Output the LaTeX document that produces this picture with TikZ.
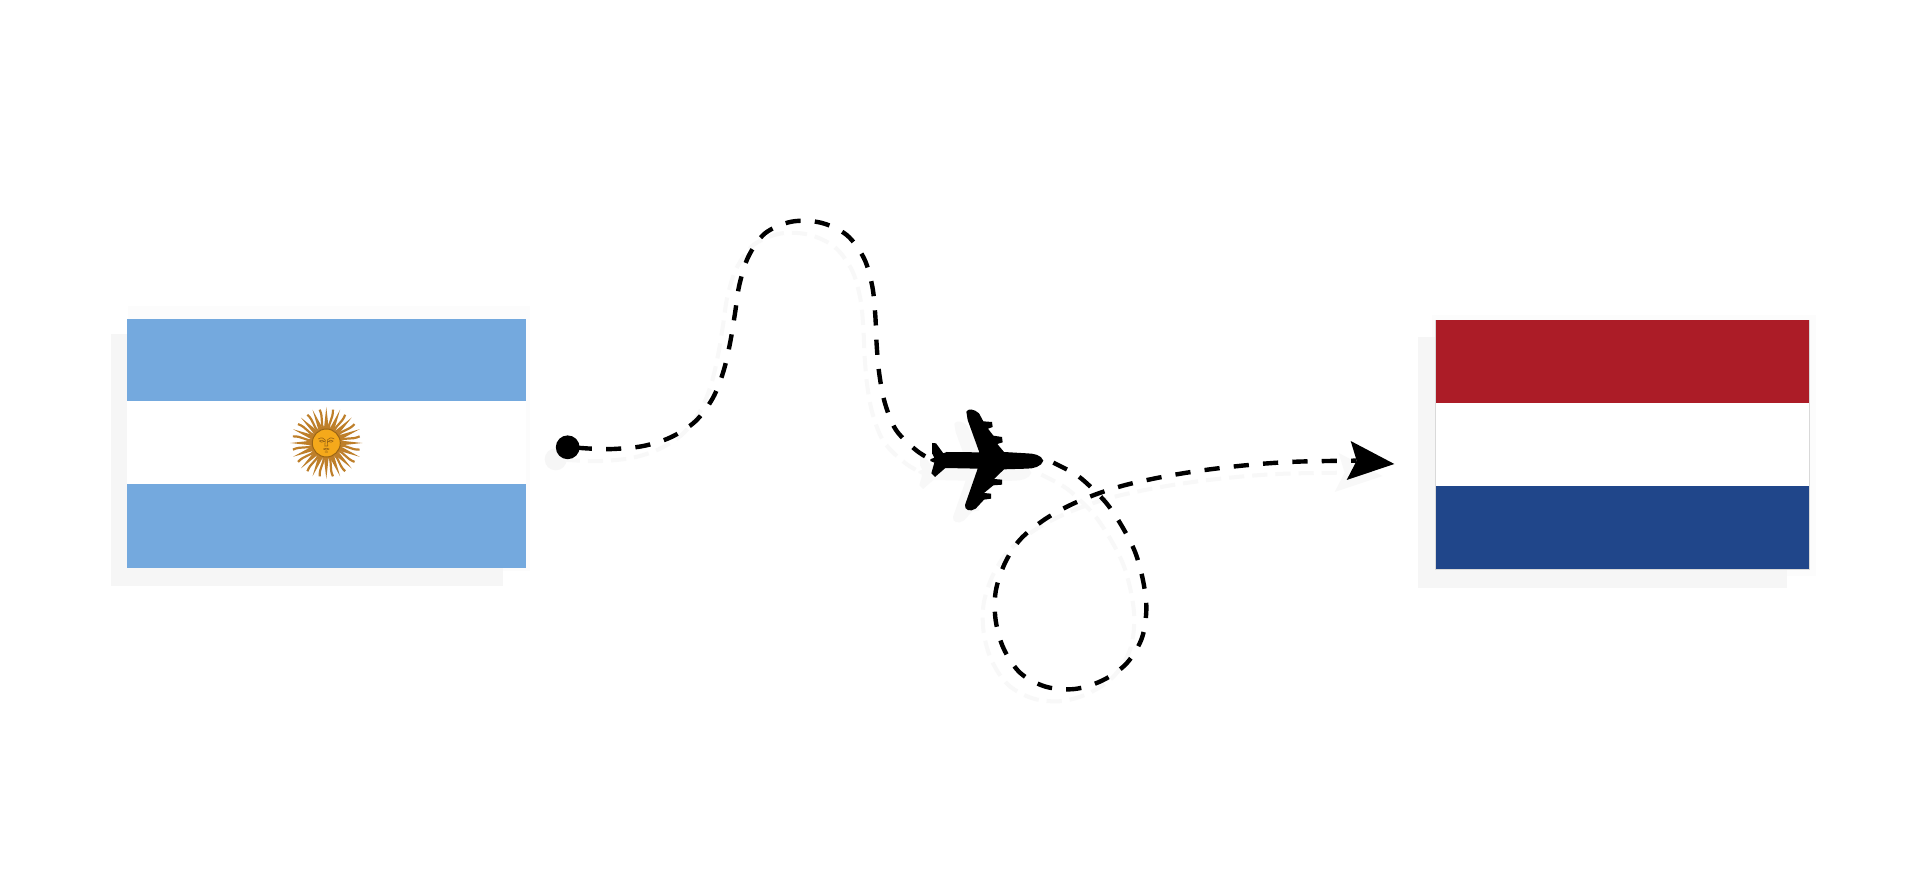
\documentclass[tikz,border=0pt]{standalone}
\definecolor{argblue}{HTML}{74A9DE}
\definecolor{nlred}{HTML}{AC1C27}
\definecolor{nlblue}{HTML}{20468A}
\definecolor{ghost}{HTML}{F6F6F6}
\definecolor{ghostline}{HTML}{F8F8F8}
\definecolor{halo}{HTML}{FCFCFC}
\definecolor{sunface}{HTML}{F5A91B}
\definecolor{sunray}{HTML}{BE7F2A}
\definecolor{sunline}{HTML}{9A6414}
\tikzset{
  route/.style={line width=2.2pt,dash pattern=on 7.6pt off 7.1pt,smooth,tension=0.55},
  ghostroute/.style={color=ghostline,line width=2pt,dash pattern=on 7.6pt off 4pt,smooth,tension=0.55},
  zoomA/.style={shift={(540,200)},scale=0.33333},
  zoomB/.style={shift={(960,420)},scale=0.33333},
  zoomP/.style={shift={(900,390)},scale=0.33333}
}
\newcommand*{\legone}{plot coordinates {(110,743)(155,746)(220,747)(310,738)(392,712)(465,665)(518,595)(550,515)(570,430)(585,340)(598,255)(625,170)(675,100)(755,65)(842,68)(920,105)(972,175)(997,260)(1006,348)(1010,435)(1018,523)(1035,610)(1068,690)(1130,752)(1185,785)}}
\newcommand*{\legtwo}{plot coordinates {(280,128)(338,158)(376,186)(438,248)(486,319)(526,398)(550,486)(559,569)(545,656)(499,731)(428,781)(344,807)(257,800)(181,759)(131,686)(107,601)(107,515)(134,431)(180,359)(250,301)(325,258)(405,224)(489,197)(576,177)(662,161)(750,148)(836,138)(924,130)(1012,125)(1102,123)(1190,122)}}
\newcommand*{\planeshape}{(430,212) .. controls (425,195) and (400,190) .. (380,190) -- (312,186) -- (292,162) -- (308,157) -- (306,141) -- (280,137) -- (264,116) -- (278,111) -- (276,96) -- (250,94) -- (237,70) .. controls (222,56) and (203,55) .. (199,65) -- (203,90) -- (238,187) -- (140,186) -- (130,190) -- (108,160) -- (96,159) -- (96,190) -- (103,203) -- (91,208) -- (91,213) -- (103,218) -- (94,250) -- (105,261) -- (136,234) -- (233,236) -- (195,345) .. controls (193,360) and (210,367) .. (227,356) -- (252,329) -- (273,326) -- (273,311) -- (252,309) -- (280,286) -- (306,284) -- (306,269) -- (282,267) -- (312,238) -- (380,236) .. controls (400,236) and (425,230) .. (430,212) -- cycle}
\newcommand*{\arrowshape}{(1303,132) -- (1172,63) -- (1190,122) -- (1160,180) -- cycle}
\begin{document}
\begin{tikzpicture}[x=0.5pt,y=-0.5pt]
\useasboundingbox (0,0) rectangle (1920,886);
\fill[white] (0,0) rectangle (1920,886);
% flag shadows
\fill[halo] (128,306) rectangle (530,571);
\fill[ghost] (110.7,334) rectangle (502.7,586);
\fill[halo] (1432,315) rectangle (1816,576);
\fill[ghost] (1418.3,337) rectangle (1786.7,587.7);
% ghost of the route
\begin{scope}[shift={(-12,12)}]
  \fill[ghost] (567.7,447.3) circle[radius=11];
  \begin{scope}[zoomA] \draw[ghostroute] \legone; \end{scope}
  \begin{scope}[zoomB] \draw[ghostroute] \legtwo; \fill[ghostline] \arrowshape; \end{scope}
  \begin{scope}[zoomP] \fill[ghostline] \planeshape; \end{scope}
\end{scope}
% Argentina
\fill[white] (127.3,319.3) rectangle (525.7,568.3);
\fill[argblue] (127.3,319.3) rectangle (525.7,401.3);
\fill[argblue] (127.3,484.3) rectangle (525.7,568.3);
\begin{scope}[shift={(326.3,443)}]
  \foreach \a in {0,22.5,...,337.5} {
    \fill[sunray,rotate=\a] (14,-2.4) -- (36,0) -- (14,2.4) -- cycle;
    \draw[sunray,line width=1.1pt,rotate=\a+11.25] (14,0) .. controls (20,-2.2) and (25,2.2) .. (34,0);
  }
  \fill[sunface,draw=sunline,line width=0.5pt] (0,0) circle[radius=14];
  \draw[sunline,line width=0.3pt] (-8,-4) .. controls (-5,-6) and (-2,-5) .. (-1,-3)
    (8,-4) .. controls (5,-6) and (2,-5) .. (1,-3)
    (-7,-2) .. controls (-5,-3.5) and (-3,-3) .. (-2,-1.5) .. controls (-4,-0.5) and (-6,-0.5) .. (-7,-2)
    (7,-2) .. controls (5,-3.5) and (3,-3) .. (2,-1.5) .. controls (4,-0.5) and (6,-0.5) .. (7,-2)
    (-1,-3) -- (-1.5,3) -- (1.5,3) -- (1,-3)
    (-3,6) .. controls (-1,5) and (1,5) .. (3,6)
    (-3,6) .. controls (-1,7.5) and (1,7.5) .. (3,6)
    (-1.5,9) -- (1.5,9);
\end{scope}
% Netherlands
\fill[white,draw=black!15,line width=0.4pt] (1435.7,320.3) rectangle (1809.3,569.3);
\fill[nlred] (1435.7,320.3) rectangle (1809.3,403.3);
\fill[nlblue] (1435.7,486.3) rectangle (1809.3,569.3);
% route
\node[circle,fill=black,minimum size=11.9pt,inner sep=0pt] (origin) at (567.7,447.3) {};
\begin{scope}[zoomA] \draw[route] \legone; \end{scope}
\begin{scope}[zoomB] \draw[route] \legtwo; \fill \arrowshape; \end{scope}
\begin{scope}[zoomP] \fill \planeshape; \end{scope}
\end{tikzpicture}
\end{document}
